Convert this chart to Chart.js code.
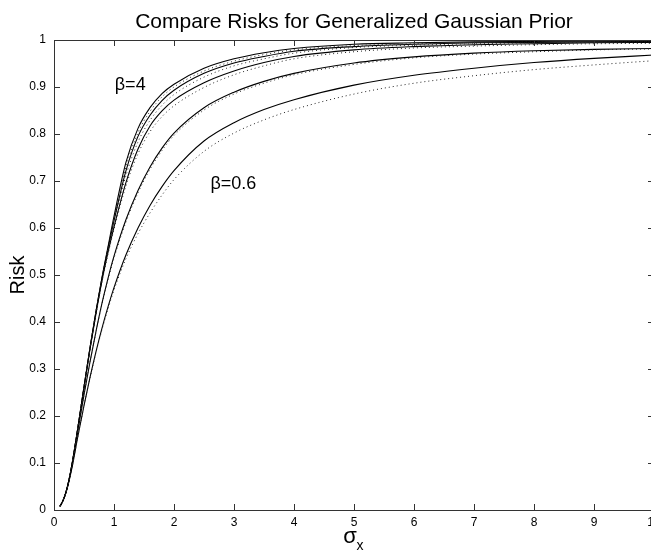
<!DOCTYPE html>
<html>
<head>
<meta charset="utf-8">
<script src="https://cdn.jsdelivr.net/npm/chart.js@4.4.1/dist/chart.umd.min.js"></script>
<style>
  html, body { margin:0; padding:0; background:#fff; overflow:hidden; }
  .wrap { width:680px; height:550px; }
</style>
</head>
<body>
<div class="wrap"><canvas id="risk" width="680" height="550"></canvas></div>
<script>
// sigma_x sample points
const sigmaX = [0.1,0.15,0.2,0.25,0.3,0.4,0.5,0.6,0.7,0.8,0.9,1.0,1.2,1.4,1.6,1.8,2.0,2.5,3,3.5,4,5,6,7,8,9,10];

// solid curves: optimal threshold risk, beta = 4, 3, 2, 1, 0.6
const riskB4  = [0.008,0.02,0.038,0.064,0.097,0.177,0.262,0.345,0.423,0.495,0.56,0.625,0.74,0.812,0.856,0.886,0.906,0.94,0.96,0.973,0.982,0.991,0.994,0.996,0.997,0.998,0.998];
const riskB3  = [0.008,0.02,0.038,0.064,0.097,0.177,0.262,0.345,0.422,0.493,0.556,0.615,0.722,0.795,0.84,0.871,0.893,0.929,0.951,0.965,0.976,0.986,0.991,0.994,0.995,0.996,0.997];
const riskB2  = [0.008,0.02,0.038,0.064,0.097,0.176,0.26,0.342,0.418,0.488,0.548,0.602,0.697,0.768,0.817,0.849,0.872,0.909,0.934,0.952,0.965,0.979,0.986,0.99,0.992,0.994,0.995];
const riskB1  = [0.008,0.02,0.038,0.063,0.095,0.17,0.245,0.315,0.38,0.44,0.493,0.54,0.618,0.68,0.73,0.77,0.802,0.856,0.889,0.912,0.929,0.951,0.964,0.972,0.977,0.98,0.982];
const riskB06 = [0.008,0.02,0.037,0.061,0.09,0.158,0.222,0.282,0.337,0.387,0.432,0.473,0.543,0.6,0.648,0.688,0.722,0.785,0.824,0.852,0.873,0.904,0.925,0.94,0.952,0.961,0.968];

// dotted curves: BayesShrink threshold risk, same betas
const bayesB4  = [0.008,0.02,0.038,0.064,0.097,0.177,0.262,0.345,0.423,0.494,0.557,0.62,0.73,0.803,0.848,0.879,0.9,0.934,0.955,0.969,0.979,0.988,0.992,0.994,0.996,0.997,0.997];
const bayesB3  = [0.008,0.02,0.038,0.064,0.097,0.177,0.262,0.344,0.421,0.491,0.553,0.61,0.712,0.783,0.829,0.861,0.884,0.921,0.945,0.96,0.972,0.984,0.989,0.992,0.994,0.995,0.996];
const bayesB2  = [0.008,0.02,0.038,0.064,0.097,0.176,0.26,0.341,0.416,0.485,0.544,0.597,0.69,0.758,0.805,0.837,0.86,0.899,0.926,0.945,0.96,0.975,0.983,0.987,0.99,0.992,0.993];
const bayesB1  = [0.008,0.02,0.038,0.063,0.095,0.17,0.245,0.315,0.379,0.438,0.49,0.536,0.613,0.675,0.725,0.765,0.797,0.851,0.885,0.908,0.926,0.948,0.962,0.97,0.975,0.979,0.981];
const bayesB06 = [0.008,0.02,0.037,0.061,0.09,0.158,0.222,0.281,0.335,0.384,0.428,0.468,0.535,0.588,0.632,0.67,0.703,0.763,0.802,0.83,0.852,0.885,0.908,0.924,0.937,0.947,0.956];

const xTicks = [0,1,2,3,4,5,6,7,8,9,10];
const yTicks = [0,0.1,0.2,0.3,0.4,0.5,0.6,0.7,0.8,0.9,1];

// curve labels, in data coordinates
const curveLabels = [
  { text:'β=4',   x:1.27, y:0.904 },
  { text:'β=0.6', x:2.99, y:0.694 }
];

const TITLE = 'Compare Risks for Generalized Gaussian Prior';
const FONT = '"Liberation Sans", Arial, Helvetica, sans-serif';
const pts = ys => sigmaX.map((x,i)=>({x, y:ys[i]}));
const solid = ys => ({ data:pts(ys), borderColor:'#000', borderWidth:1.1, pointRadius:0, cubicInterpolationMode:'monotone', fill:false });
const dotted = ys => ({ data:pts(ys), borderColor:'#222', borderWidth:1, borderDash:[1,3], pointRadius:0, cubicInterpolationMode:'monotone', fill:false });

// box with inward ticks on all four sides, title, curve labels, sigma_x title
const frame = {
  id:'frame',
  afterDraw(chart){
    const {ctx, chartArea:a, scales:{x, y}} = chart;
    ctx.save();
    ctx.strokeStyle = '#333';
    ctx.lineWidth = 1;
    ctx.strokeRect(a.left+0.5, a.top+0.5, a.right-a.left, a.bottom-a.top);
    ctx.beginPath();
    xTicks.forEach(v=>{
      const px = Math.round(x.getPixelForValue(v))+0.5;
      ctx.moveTo(px, a.bottom); ctx.lineTo(px, a.bottom-6);
      ctx.moveTo(px, a.top); ctx.lineTo(px, a.top+6);
    });
    yTicks.forEach(v=>{
      const py = Math.round(y.getPixelForValue(v))+0.5;
      ctx.moveTo(a.left, py); ctx.lineTo(a.left+6, py);
      ctx.moveTo(a.right, py); ctx.lineTo(a.right-6, py);
    });
    ctx.stroke();

    const cx = (a.left + a.right)/2;
    ctx.fillStyle = '#000';
    ctx.textAlign = 'center';
    ctx.textBaseline = 'middle';

    ctx.font = '21px ' + FONT;
    ctx.fillText(TITLE, cx, 22);

    ctx.font = '18px ' + FONT;
    curveLabels.forEach(l=>{
      ctx.fillText(l.text, x.getPixelForValue(l.x), y.getPixelForValue(l.y));
    });

    // x axis title: sigma with subscript x
    ctx.font = '22px ' + FONT;
    ctx.fillText('σ', cx - 4, 537);
    ctx.font = '14px ' + FONT;
    ctx.fillText('x', cx + 6, 546);
    ctx.restore();
  }
};

new Chart(document.getElementById('risk'), {
  type:'line',
  data:{
    datasets:[
      dotted(bayesB4), dotted(bayesB3), dotted(bayesB2), dotted(bayesB1), dotted(bayesB06),
      solid(riskB4), solid(riskB3), solid(riskB2), solid(riskB1), solid(riskB06)
    ]
  },
  options:{
    responsive:false,
    animation:false,
    layout:{ padding:{ left:0, right:26, top:40, bottom:0 } },
    plugins:{
      legend:{ display:false },
      tooltip:{ enabled:false },
      title:{ display:false }
    },
    scales:{
      x:{
        type:'linear', min:0, max:10,
        grid:{ display:false, drawTicks:false },
        border:{ display:false },
        ticks:{ stepSize:1, color:'#000', padding:5, maxRotation:0, font:{ family:FONT, size:12 } },
        afterFit(s){ s.height = 40; }
      },
      y:{
        min:0, max:1,
        grid:{ display:false, drawTicks:false },
        border:{ display:false },
        ticks:{
          stepSize:0.1, color:'#000', padding:8, font:{ family:FONT, size:12 },
          callback:v => String(+v.toFixed(1))
        },
        title:{ display:true, text:'Risk', color:'#000', font:{ family:FONT, size:20, lineHeight:1 }, padding:{ top:8, bottom:0 } },
        afterFit(s){ s.width = 54; }
      }
    }
  },
  plugins:[frame]
});
</script>
</body>
</html>
